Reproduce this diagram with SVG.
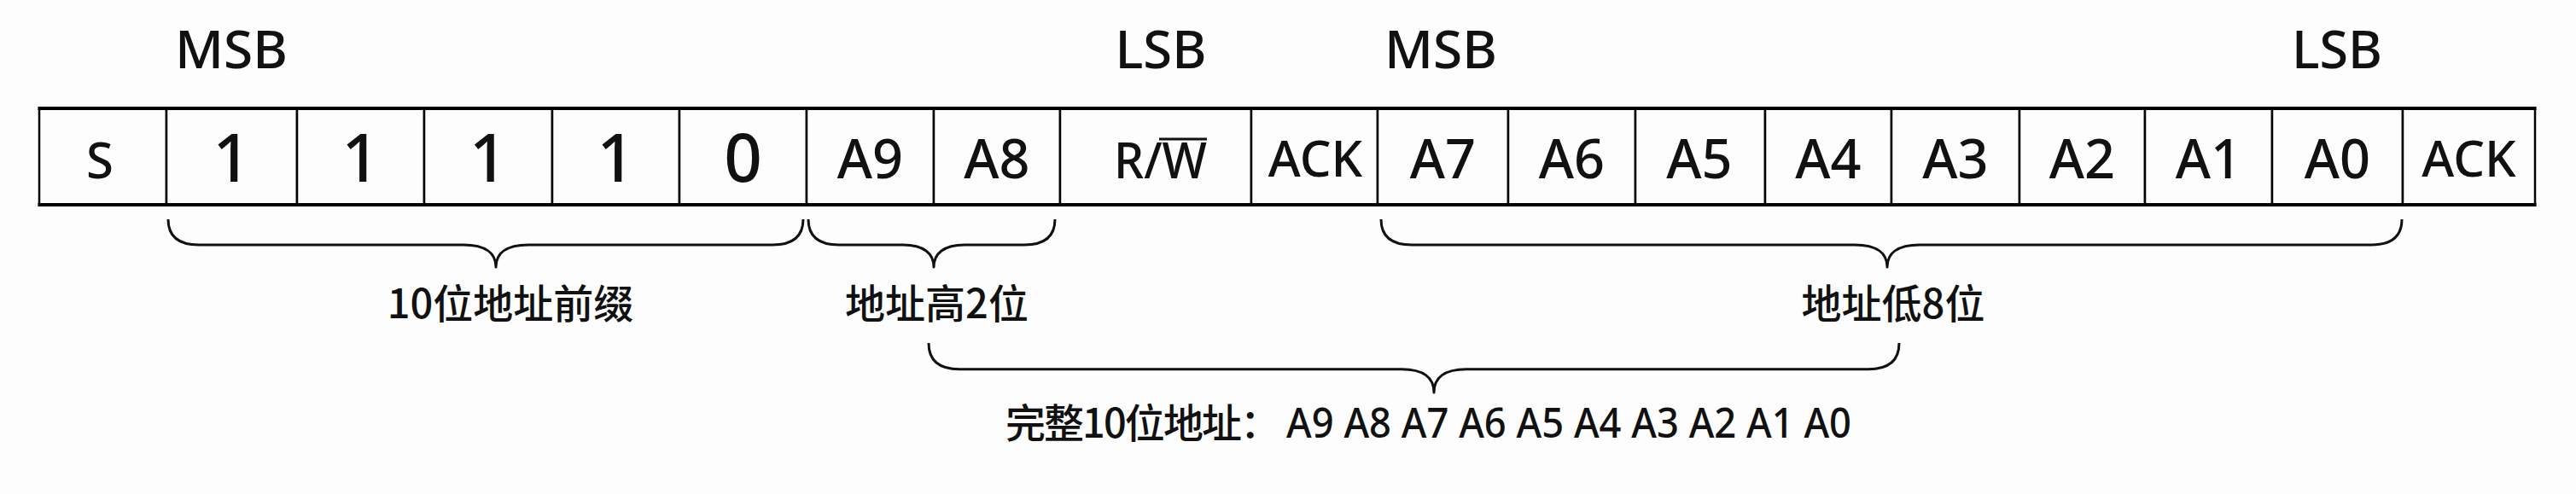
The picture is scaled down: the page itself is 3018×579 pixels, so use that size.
<svg xmlns="http://www.w3.org/2000/svg" width="3018" height="579" viewBox="0 0 3018 579">
<style>
.bg{fill:#fdfdfd}
.cell{fill:#fdfdfd;stroke:#000;stroke-width:2.5}
.edge{stroke:#000;stroke-width:4;fill:none}
.t{font-family:"Noto Sans","Open Sans","Liberation Sans",sans-serif;fill:#111;text-anchor:middle;font-weight:500}
.bit{font-size:78px}
.sig{font-size:58px}
.addr{font-size:63px}
.hdr{font-size:61px}
.lbl{font-family:"Noto Sans CJK SC","Noto Sans",sans-serif;font-size:47px;fill:#111;text-anchor:middle;font-weight:500}
.lat{font-family:"Noto Sans","Open Sans",sans-serif;font-size:49px;fill:#111;font-weight:500}
.brace{fill:none;stroke:#111;stroke-width:3;stroke-linejoin:round}
.ov{stroke:#111;stroke-width:3}
</style>
<rect class="bg" x="0" y="0" width="3018" height="579"/>

<g id="headers">
<text class="t hdr" x="271" y="80" textLength="132" lengthAdjust="spacingAndGlyphs">MSB</text>
<text class="t hdr" x="1360" y="80" textLength="107" lengthAdjust="spacingAndGlyphs">LSB</text>
<text class="t hdr" x="1688" y="80" textLength="132" lengthAdjust="spacingAndGlyphs">MSB</text>
<text class="t hdr" x="2738" y="80" textLength="106" lengthAdjust="spacingAndGlyphs">LSB</text>
</g>

<g id="cell-S"><rect class="cell" x="46" y="127" width="149" height="113"/><text class="t sig" x="117" y="209">S</text></g>
<g id="cell-b1"><rect class="cell" x="195" y="127" width="153" height="113"/><text class="t bit" x="271.5" y="213">1</text></g>
<g id="cell-b2"><rect class="cell" x="348" y="127" width="149" height="113"/><text class="t bit" x="422.5" y="213">1</text></g>
<g id="cell-b3"><rect class="cell" x="497" y="127" width="150" height="113"/><text class="t bit" x="572" y="213">1</text></g>
<g id="cell-b4"><rect class="cell" x="647" y="127" width="149" height="113"/><text class="t bit" x="721.5" y="213">1</text></g>
<g id="cell-b5"><rect class="cell" x="796" y="127" width="149" height="113"/><text class="t bit" x="870.5" y="213">0</text></g>
<g id="cell-A9"><rect class="cell" x="945" y="127" width="149" height="113"/><text class="t addr" x="1019.5" y="209">A9</text></g>
<g id="cell-A8"><rect class="cell" x="1094" y="127" width="148" height="113"/><text class="t addr" x="1168" y="209">A8</text></g>
<g id="cell-RW"><rect class="cell" x="1242" y="127" width="224" height="113"/><text class="t sig" x="1359.5" y="209" textLength="109" lengthAdjust="spacingAndGlyphs">R/W</text><line class="ov" x1="1358" y1="163" x2="1414" y2="163"/></g>
<g id="cell-ACK1"><rect class="cell" x="1466" y="127" width="148" height="113"/><text class="t sig" x="1541" y="207">ACK</text></g>
<g id="cell-A7"><rect class="cell" x="1614" y="127" width="153" height="113"/><text class="t addr" x="1690.5" y="209">A7</text></g>
<g id="cell-A6"><rect class="cell" x="1767" y="127" width="149" height="113"/><text class="t addr" x="1841.5" y="209">A6</text></g>
<g id="cell-A5"><rect class="cell" x="1916" y="127" width="152" height="113"/><text class="t addr" x="1991" y="209">A5</text></g>
<g id="cell-A4"><rect class="cell" x="2068" y="127" width="148" height="113"/><text class="t addr" x="2142" y="209">A4</text></g>
<g id="cell-A3"><rect class="cell" x="2216" y="127" width="150" height="113"/><text class="t addr" x="2291" y="209">A3</text></g>
<g id="cell-A2"><rect class="cell" x="2366" y="127" width="147" height="113"/><text class="t addr" x="2439.5" y="209">A2</text></g>
<g id="cell-A1"><rect class="cell" x="2513" y="127" width="149" height="113"/><text class="t addr" x="2587.5" y="209">A1</text></g>
<g id="cell-A0"><rect class="cell" x="2662" y="127" width="153" height="113"/><text class="t addr" x="2738.5" y="209">A0</text></g>
<g id="cell-ACK2"><rect class="cell" x="2815" y="127" width="155" height="113"/><text class="t sig" x="2892.5" y="207">ACK</text></g>

<g id="table-edges">
<line class="edge" x1="44.5" y1="127" x2="2971.5" y2="127"/>
<line class="edge" x1="44.5" y1="240" x2="2971.5" y2="240"/>
</g>

<g id="connectors">
<path id="brace-prefix" class="brace" d="M197 257 C197 277 209 287 233 287 L543 287 C569 287 581 297 581 313 C581 297 593 287 619 287 L905 287 C929 287 941 277 941 257"/>
<path id="brace-high" class="brace" d="M947 257 C947 277 959 287 983 287 L1058 287 C1082 287 1094 297 1094 313 C1094 297 1106 287 1130 287 L1200 287 C1224 287 1236 277 1236 257"/>
<path id="brace-low" class="brace" d="M1618 257 C1618 277 1630 287 1654 287 L2173 287 C2199 287 2211 297 2211 313 C2211 297 2223 287 2249 287 L2778 287 C2802 287 2814 277 2814 257"/>
<path id="brace-full" class="brace" d="M1088 402 C1088 422 1100 432.7 1124 432.7 L1642 432.7 C1668 432.7 1680 443 1680 460 C1680 443 1692 432.7 1718 432.7 L2189 432.7 C2213 432.7 2225 422 2225 402"/>
</g>

<g id="label-prefix"><text class="lbl" x="598" y="373">10位地址前缀</text></g>
<g id="label-high"><text class="lbl" x="1097.5" y="373">地址高2位</text></g>
<g id="label-low"><text class="lbl" x="2218" y="373">地址低8位</text></g>
<g id="label-full"><text class="lbl" x="1178" y="513" style="text-anchor:start" textLength="322" lengthAdjust="spacing">完整10位地址：</text><text class="lat" x="1507" y="513" textLength="662" lengthAdjust="spacingAndGlyphs">A9 A8 A7 A6 A5 A4 A3 A2 A1 A0</text></g>
</svg>
